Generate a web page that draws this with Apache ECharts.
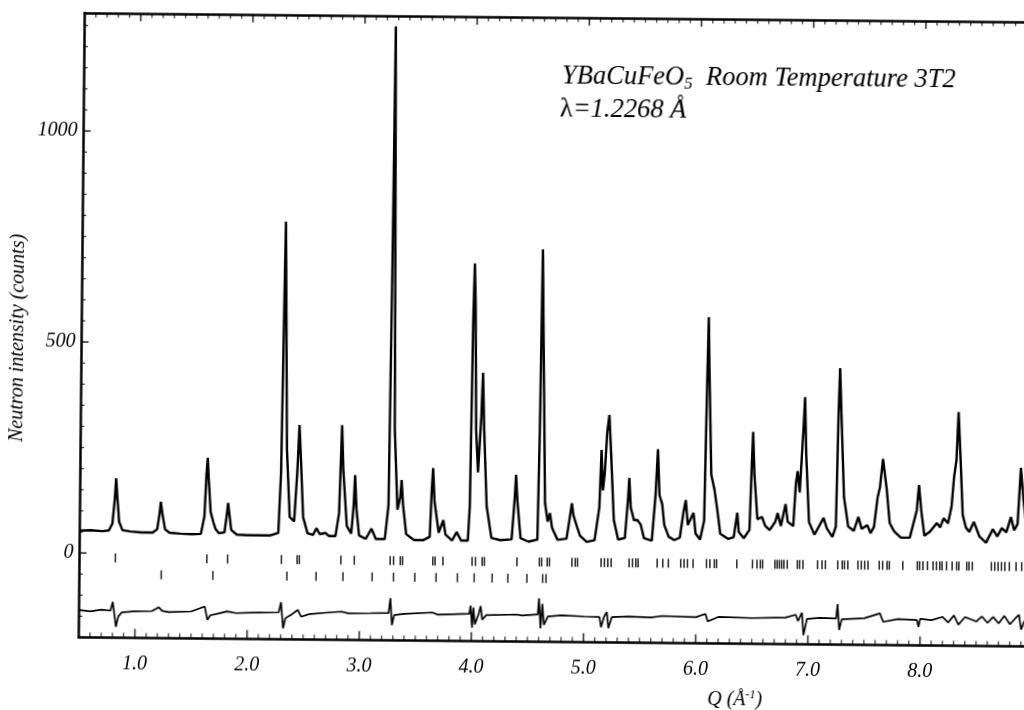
<!DOCTYPE html>
<html><head><meta charset="utf-8">
<script src="https://cdn.jsdelivr.net/npm/echarts@6/dist/echarts.min.js"></script>
<style>
html,body{margin:0;padding:0;width:1024px;height:710px;overflow:hidden;background:#fff}
#chart{position:absolute;left:0;top:0;width:1060px;height:710px;transform-origin:512px 355px;transform:rotate(0.55deg);}
</style></head><body><div id="chart"></div>
<script>
// ---- data ----
const xTickValues = [1, 2, 3, 4, 5, 6, 7, 8];
const yTickValues = [0, 500, 1000];
const xMinorStep = 0.1, yMinorStep = 50;
const observed = [
[0.50,53],[0.60,54],[0.70,52],[0.76,54],[0.79,70],[0.81,130],[0.82,178],[0.83,140],[0.85,75],[0.88,55],[0.95,52],
[1.05,50],[1.15,50],[1.19,58],[1.21,95],[1.22,123],[1.235,95],[1.26,58],[1.30,50],[1.40,48],[1.50,47],
[1.58,48],[1.61,90],[1.625,190],[1.635,228],[1.645,180],[1.665,100],[1.69,76],[1.71,60],[1.74,50],
[1.79,52],[1.81,95],[1.82,122],[1.83,100],[1.85,58],[1.90,47],[2.00,46],[2.10,46],[2.20,46],
[2.27,52],[2.29,200],[2.303,560],[2.312,790],[2.322,600],[2.34,250],[2.37,90],[2.41,80],[2.435,200],[2.45,308],[2.465,230],[2.49,90],
[2.53,52],[2.58,48],[2.61,64],[2.64,50],[2.69,53],[2.72,46],[2.78,46],[2.81,100],[2.83,309],[2.845,200],[2.88,70],
[2.92,52],[2.94,120],[2.95,191],[2.965,110],[2.99,48],[3.05,40],[3.10,64],[3.14,40],[3.22,40],
[3.25,120],[3.265,700],[3.275,1255],[3.285,900],[3.30,300],[3.33,110],[3.355,140],[3.365,180],[3.38,120],[3.41,52],
[3.48,38],[3.56,38],[3.62,46],[3.635,160],[3.645,209],[3.66,130],[3.70,56],[3.74,86],[3.76,52],[3.82,38],[3.86,58],[3.90,38],[3.96,38],
[3.975,120],[3.99,560],[4.00,695],[4.01,600],[4.025,300],[4.045,200],[4.07,330],[4.082,436],[4.097,300],[4.125,120],[4.17,45],
[4.25,40],[4.35,42],[4.375,140],[4.385,195],[4.40,130],[4.43,45],[4.50,37],[4.58,42],
[4.593,300],[4.605,730],[4.62,500],[4.645,130],[4.67,85],[4.69,105],[4.71,70],[4.76,42],[4.84,45],
[4.87,100],[4.885,129],[4.90,100],[4.93,75],[4.96,52],[5.02,38],[5.09,42],
[5.13,120],[5.145,256],[5.16,160],[5.175,200],[5.195,300],[5.212,339],[5.23,250],[5.26,90],[5.30,44],
[5.36,48],[5.385,140],[5.395,190],[5.41,120],[5.44,90],[5.47,91],[5.50,80],[5.53,48],[5.60,42],
[5.63,150],[5.648,259],[5.665,150],[5.69,129],[5.71,80],[5.75,52],[5.80,44],[5.85,50],[5.88,110],[5.90,139],[5.92,80],[5.97,109],[5.99,60],[6.03,46],
[6.065,90],[6.08,400],[6.09,573],[6.10,450],[6.125,200],[6.155,164],[6.18,120],[6.21,60],[6.28,48],
[6.33,52],[6.36,110],[6.375,65],[6.42,50],[6.47,70],[6.485,220],[6.495,302],[6.51,200],[6.54,95],[6.58,101],[6.61,80],
[6.65,70],[6.70,90],[6.72,110],[6.75,80],[6.79,132],[6.81,90],[6.86,80],[6.88,180],[6.895,210],[6.915,160],[6.945,320],[6.955,386],[6.97,250],[7.00,90],
[7.05,60],[7.10,85],[7.13,100],[7.16,75],[7.21,55],[7.24,80],[7.255,350],[7.265,455],[7.28,350],[7.31,150],[7.35,80],
[7.40,70],[7.44,103],[7.47,75],[7.52,84],[7.55,65],[7.58,80],[7.61,150],[7.63,174],[7.655,241],[7.69,170],[7.72,89],[7.76,70],
[7.82,55],[7.90,55],[7.96,120],[7.978,180],[8.00,120],[8.03,60],[8.08,70],[8.14,90],[8.17,80],[8.20,102],[8.24,90],
[8.27,130],[8.29,200],[8.31,240],[8.325,354],[8.345,250],[8.37,110],[8.40,80],[8.43,70],[8.47,94],[8.52,60],[8.58,45],
[8.64,77],[8.68,60],[8.72,80],[8.76,70],[8.80,106],[8.83,75],[8.86,90],[8.885,223],[8.91,150],[8.94,80],[9.00,50]
];
const difference = [
[0.50,-135],[0.60,-138],[0.70,-134],[0.78,-136],[0.80,-115],[0.815,-118],[0.83,-174],[0.85,-150],[0.88,-140],[1.00,-137],
[1.15,-136],[1.21,-127],[1.24,-135],[1.30,-138],[1.50,-136],[1.62,-124],[1.645,-156],[1.67,-145],[1.75,-140],[1.82,-135],[1.90,-139],
[2.10,-137],[2.28,-136],[2.30,-112],[2.32,-174],[2.34,-150],[2.40,-140],[2.45,-130],[2.48,-146],[2.55,-140],[2.70,-136],[2.84,-133],[2.90,-137],
[3.10,-136],[3.26,-135],[3.275,-100],[3.29,-164],[3.31,-140],[3.40,-137],[3.65,-133],[3.70,-138],[3.98,-135],[3.99,-116],[4.005,-168],
[4.015,-120],[4.03,-160],[4.06,-138],[4.08,-117],[4.095,-149],[4.13,-138],[4.40,-136],[4.45,-138],[4.59,-135],[4.60,-97],[4.615,-168],
[4.63,-110],[4.645,-160],[4.68,-140],[4.80,-137],[5.00,-139],[5.14,-140],[5.155,-164],[5.18,-140],[5.205,-128],[5.22,-166],[5.25,-140],
[5.40,-138],[5.60,-140],[5.70,-136],[6.00,-138],[6.085,-130],[6.105,-148],[6.20,-137],[6.50,-139],[6.80,-137],[6.89,-130],[6.91,-145],
[6.945,-125],[6.96,-178],[6.99,-140],[7.10,-137],[7.25,-138],[7.262,-104],[7.278,-165],[7.30,-140],[7.50,-137],[7.64,-125],[7.67,-145],
[7.80,-138],[7.97,-140],[7.985,-156],[8.00,-137],[8.10,-140],[8.20,-132],[8.25,-145],[8.30,-128],[8.34,-150],[8.40,-132],[8.50,-142],
[8.55,-130],[8.60,-145],[8.65,-131],[8.70,-146],[8.75,-128],[8.80,-148],[8.85,-133],[8.88,-125],[8.90,-160],[8.93,-140],[9.00,-137]
];
const phase1Reflections = [0.82,1.635,1.82,2.30,2.44,2.46,2.83,2.95,3.27,3.30,3.36,3.38,3.65,3.67,3.74,4.00,4.03,4.09,4.11,4.40,
4.60,4.62,4.67,4.69,4.89,4.92,4.94,5.15,5.18,5.21,5.24,5.40,5.43,5.46,5.48,5.65,5.70,5.75,5.86,5.89,5.92,5.97,
6.09,6.12,6.16,6.18,6.36,6.50,6.54,6.57,6.59,6.70,6.72,6.74,6.76,6.78,6.81,6.90,6.92,6.95,7.08,7.12,7.15,
7.26,7.30,7.32,7.35,7.44,7.47,7.50,7.53,7.63,7.66,7.70,7.72,7.84,7.97,7.99,8.02,8.06,8.11,8.14,8.17,8.19,8.23,
8.28,8.32,8.34,8.41,8.43,8.46,8.63,8.66,8.69,8.72,8.75,8.79,8.85,8.90];
const phase2Reflections = [1.23,1.69,2.35,2.61,2.85,3.11,3.30,3.49,3.68,3.87,4.02,4.18,4.32,4.49,4.63,4.66];
const row1Level = -11, row2Level = -50;

// ---- chart ----
const FONT = '"Liberation Serif","Times New Roman",serif';
const X_MIN = 0.5, X_MAX = 9.0, Y_MIN = -200, Y_MAX = 1280;
const black = '#000';
const noSplit = { splitLine: { show: false }, minorSplitLine: { show: false } };

// axis tick positions (inward tick marks are drawn as symbols sitting on the frame)
const xMinor = [], yMinor = [];
for (let i = Math.round(X_MIN / xMinorStep) + 1; i * xMinorStep < X_MAX; i++) {
  const v = Math.round(i * xMinorStep * 10) / 10;
  if (!xTickValues.includes(v) && Math.abs(v - Math.round(v)) > 1e-9) xMinor.push(v);
}
for (let v = Y_MIN + yMinorStep; v < Y_MAX; v += yMinorStep) if (!yTickValues.includes(v)) yMinor.push(v);

function tickSeries(values, onX, edge, len, w) {
  return {
    type: 'scatter', silent: true, clip: false, z: 4, symbol: 'rect',
    data: values.map(v => onX ? [v, edge] : [edge, v]),
    symbolSize: onX ? [w, len] : [len, w],
    symbolOffset: onX ? [0, edge === Y_MIN ? -len / 2 : len / 2] : [len / 2, 0],
    itemStyle: { color: black }
  };
}
function frameX(pos, labels) {
  return Object.assign({
    type: 'value', position: pos, min: X_MIN, max: X_MAX, splitNumber: 8,
    axisLine: { show: true, onZero: false, lineStyle: { color: black, width: 2.5 } },
    axisTick: { show: false }, minorTick: { show: false },
    axisLabel: labels ? { show: true, customValues: xTickValues, formatter: v => Number(v).toFixed(1), margin: 16,
                          color: black, fontFamily: FONT, fontStyle: 'italic', fontSize: 20 } : { show: false }
  }, noSplit);
}
const chart = echarts.init(document.getElementById('chart'), null, { renderer: 'canvas' });
chart.setOption({
  animation: false,
  backgroundColor: '#fff',
  grid: { left: 81.5, top: 16.9, width: 953.4, height: 624.6, containLabel: false },
  xAxis: [frameX('bottom', true), frameX('top', false)],
  yAxis: [Object.assign({
    type: 'value', position: 'left', min: Y_MIN, max: Y_MAX, splitNumber: 3,
    axisLine: { show: true, onZero: false, lineStyle: { color: black, width: 2.5 } },
    axisTick: { show: false }, minorTick: { show: false },
    axisLabel: { show: true, customValues: yTickValues, formatter: v => String(v), margin: 6,
                 color: black, fontFamily: FONT, fontStyle: 'italic', fontSize: 20 }
  }, noSplit)],
  series: [
    { type: 'line', data: observed, showSymbol: false, silent: true, z: 3,
      lineStyle: { color: black, width: 2.4 } },
    { type: 'line', data: difference, showSymbol: false, silent: true, z: 3,
      lineStyle: { color: black, width: 1.7 } },
    { type: 'scatter', data: phase1Reflections.map(q => [q, row1Level]), silent: true,
      symbol: 'rect', symbolSize: [1.6, 9], itemStyle: { color: black } },
    { type: 'scatter', data: phase2Reflections.map(q => [q, row2Level]), silent: true,
      symbol: 'rect', symbolSize: [1.6, 9], itemStyle: { color: black } },
    tickSeries(xTickValues, true, Y_MIN, 9, 1.6),
    tickSeries(xMinor, true, Y_MIN, 5, 1.2),
    tickSeries(xTickValues, true, Y_MAX, 8, 1.6),
    tickSeries(xMinor, true, Y_MAX, 4.5, 1.2),
    tickSeries(yTickValues, false, X_MIN, 7, 1.6),
    tickSeries(yMinor, false, X_MIN, 3.5, 1.2)
  ],
  graphic: [
    { type: 'text', x: 17.8, y: 342.7, rotation: Math.PI / 2, silent: true,
      style: { text: 'Neutron intensity (counts)', fontFamily: FONT, fontStyle: 'italic', fontSize: 20, fill: black, align: 'center', verticalAlign: 'middle' } },
    { type: 'text', x: 738, y: 698, silent: true,
      style: { text: 'Q (Å{sup|-1})', fontFamily: FONT, fontStyle: 'italic', fontSize: 20, lineHeight: 22, fill: black, align: 'center', verticalAlign: 'middle',
               rich: { sup: { fontFamily: FONT, fontStyle: 'italic', fontSize: 12, lineHeight: 12, verticalAlign: 'top', fill: black } } } },
    { type: 'text', x: 559.3, y: 75.7, silent: true,
      style: { text: 'YBaCuFeO{sub|5}  Room Temperature 3T2', fontFamily: FONT, fontStyle: 'italic', fontSize: 26.5, lineHeight: 30, fill: black, align: 'left', verticalAlign: 'middle',
               rich: { sub: { fontFamily: FONT, fontStyle: 'italic', fontSize: 17, lineHeight: 16, verticalAlign: 'bottom', fill: black } } } },
    { type: 'text', x: 557.6, y: 109.5, silent: true,
      style: { text: '{up|λ}=1.2268 Å', fontFamily: FONT, fontStyle: 'italic', fontSize: 26.5, lineHeight: 30, fill: black, align: 'left', verticalAlign: 'middle',
               rich: { up: { fontFamily: FONT, fontStyle: 'normal', fontSize: 26.5, lineHeight: 30, fill: black } } } }
  ]
});
</script></body></html>
